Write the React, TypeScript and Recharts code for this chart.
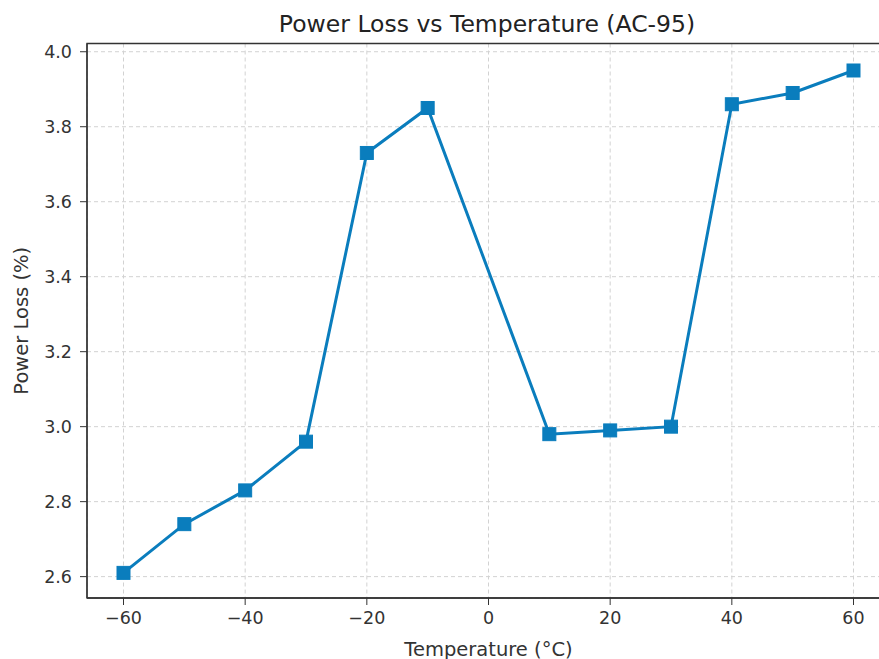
import React from 'react';
import { LineChart, Line, XAxis, YAxis, CartesianGrid, ReferenceArea } from 'recharts';

const temperatures = [-60, -50, -40, -30, -20, -10, 10, 20, 30, 40, 50, 60];
const powerLoss = [2.61, 2.74, 2.83, 2.96, 3.73, 3.85, 2.98, 2.99, 3.0, 3.86, 3.89, 3.95];
const xTicks = [-60, -40, -20, 0, 20, 40, 60];
const yTicks = [2.6, 2.8, 3.0, 3.2, 3.4, 3.6, 3.8, 4.0];

const data = temperatures.map((t, i) => ({ t, v: powerLoss[i] }));

const COLOR = '#0a7dbd';
const FONT = 'DejaVu Sans, sans-serif';

const SquareDot = (props: any) => {
  const { cx, cy } = props;
  if (cx == null || cy == null) return null;
  const s = 13;
  return <rect x={cx - s / 2} y={cy - s / 2} width={s} height={s} fill={COLOR} stroke={COLOR} strokeWidth={1} />;
};

const fmtX = (v: number) => String(v).replace('-', '\u2212');

export default function App() {
  return (
    <div style={{ position: 'absolute', left: 0, top: 0, width: 879, height: 659, overflow: 'hidden', background: '#fff', fontFamily: FONT }}>
      <div style={{ position: 'absolute', left: 87, width: 800, top: 10, textAlign: 'center', fontSize: 23.5, lineHeight: '28px', color: '#222', fontFamily: FONT }}>
        Power Loss vs Temperature (AC-95)
      </div>
      <LineChart width={890} height={659} data={data} margin={{ top: 43.5, right: 0, bottom: 0, left: 0 }}>
        <CartesianGrid stroke="#d2d2d2" strokeDasharray="4 3" strokeWidth={1} horizontal vertical />
        <XAxis
          dataKey="t"
          type="number"
          domain={[-66, 66]}
          ticks={xTicks}
          allowDataOverflow
          tickFormatter={fmtX}
          height={61}
          axisLine={{ stroke: '#333', strokeWidth: 1.3 }}
          tickLine={{ stroke: '#333' }}
          tickSize={7}
          tickMargin={7}
          tick={{ fill: '#333', fontSize: 17.5, fontFamily: FONT }}
          label={{
            content: (p: any) => {
              const vb = p.viewBox;
              return (
                <text x={vb.x + vb.width / 2} y={649} textAnchor="middle" dominantBaseline="central" fill="#333" fontSize={19.5} fontFamily={FONT}>
                  Temperature (°C)
                </text>
              );
            },
          }}
        />
        <YAxis
          type="number"
          domain={[2.543, 4.022]}
          ticks={yTicks}
          allowDataOverflow
          tickFormatter={(v: number) => v.toFixed(1)}
          width={87}
          axisLine={{ stroke: '#333', strokeWidth: 1.3 }}
          tickLine={{ stroke: '#333' }}
          tickSize={7}
          tickMargin={8}
          tick={{ fill: '#333', fontSize: 17.5, fontFamily: FONT }}
          label={{
            content: (p: any) => {
              const vb = p.viewBox;
              const x = 21;
              const y = vb.y + vb.height / 2;
              return (
                <text x={x} y={y} transform={`rotate(-90, ${x}, ${y})`} textAnchor="middle" dominantBaseline="central" fill="#333" fontSize={19.5} fontFamily={FONT}>
                  Power Loss (%)
                </text>
              );
            },
          }}
        />
        <ReferenceArea x1={-66} x2={66} y1={2.543} y2={4.022} fill="none" stroke="#333" strokeWidth={1.3} ifOverflow="visible" />
        <Line
          type="linear"
          dataKey="v"
          stroke={COLOR}
          strokeWidth={3}
          dot={<SquareDot />}
          activeDot={false}
          isAnimationActive={false}
        />
      </LineChart>
    </div>
  );
}
